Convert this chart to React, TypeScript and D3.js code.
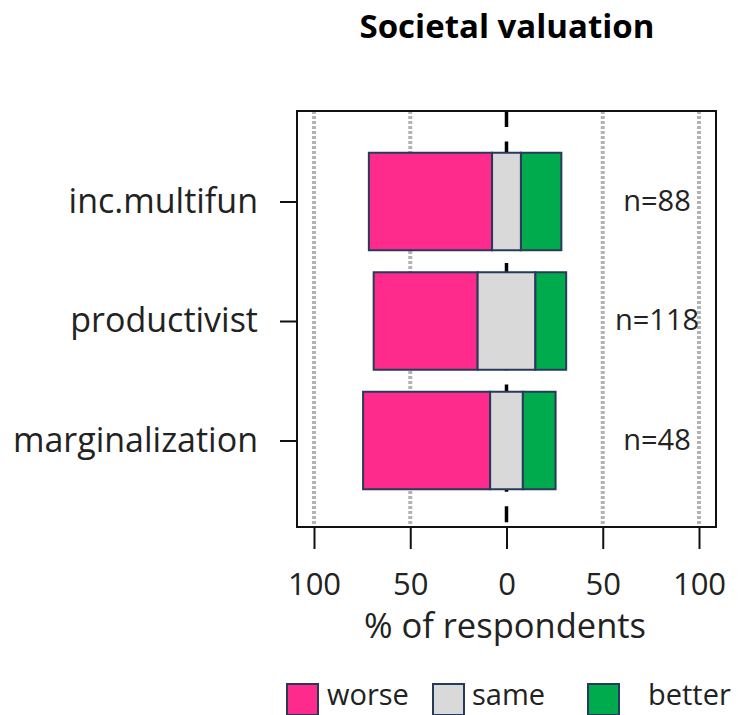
import React, { useEffect, useRef } from 'react'
import * as d3 from 'd3'

// data (% of respondents)
const categories = ['inc.multifun', 'productivist', 'marginalization']
const worse = [64, 54, 66]
const same = [15, 30, 17]
const better = [21, 16, 17]
const nLabels = ['n=88', 'n=118', 'n=48']
const xTicks = [-100, -50, 0, 50, 100]
const legendLabels = ['worse', 'same', 'better']
const colors = ['#fe2b8c', '#d9d9d9', '#00ab4e']

const FONT = '"Open Sans", sans-serif'

export default function App () {
  const ref = useRef<SVGSVGElement>(null)

  useEffect(() => {
    const svg = d3.select(ref.current)
    svg.selectAll('*').remove()

    const box = { left: 297, right: 716, top: 111, bottom: 527 }

    const x = d3.scaleLinear().domain([-100, 100]).range([314, 699])
    const y = d3.scalePoint<string>().domain(categories).range([201.5, 440.5])
    const barH = 97.5

    // title
    svg.append('text')
      .attr('x', 507).attr('y', 38)
      .attr('text-anchor', 'middle')
      .attr('font-family', FONT).attr('font-weight', 'bold').attr('font-size', 33)
      .text('Societal valuation')

    // grid
    svg.append('g')
      .selectAll('line')
      .data(xTicks.filter(d => d !== 0))
      .enter().append('line')
        .attr('x1', d => x(d)).attr('x2', d => x(d))
        .attr('y1', box.top).attr('y2', box.bottom)
        .attr('stroke', '#b3b3b3')
        .attr('stroke-width', 4)
        .attr('stroke-dasharray', '3,2')

    svg.append('line')
      .attr('x1', x(0)).attr('x2', x(0))
      .attr('y1', box.top).attr('y2', box.bottom)
      .attr('stroke', '#000')
      .attr('stroke-width', 3.5)
      .attr('stroke-dasharray', '16,14.4')

    // bars
    const rows = categories.map((c, i) => {
      const start = -(same[i] / 2) - worse[i]
      return [
        { cat: c, x0: start, x1: start + worse[i], k: 0 },
        { cat: c, x0: -same[i] / 2, x1: same[i] / 2, k: 1 },
        { cat: c, x0: same[i] / 2, x1: same[i] / 2 + better[i], k: 2 }
      ]
    }).flat()

    svg.append('g')
      .selectAll('rect')
      .data(rows)
      .enter().append('rect')
        .attr('x', d => x(d.x0))
        .attr('width', d => x(d.x1) - x(d.x0))
        .attr('y', d => (y(d.cat) as number) - barH / 2)
        .attr('height', barH)
        .attr('fill', d => colors[d.k])
        .attr('stroke', '#283a5c')
        .attr('stroke-width', 2)

    // n labels
    svg.append('g')
      .selectAll('text')
      .data(categories)
      .enter().append('text')
        .attr('x', 657)
        .attr('y', d => y(d) as number)
        .attr('dy', '0.32em')
        .attr('text-anchor', 'middle')
        .attr('font-family', FONT).attr('font-size', 29)
        .attr('fill', '#222')
        .text((d, i) => nLabels[i])

    // box
    svg.append('rect')
      .attr('x', box.left).attr('y', box.top)
      .attr('width', box.right - box.left).attr('height', box.bottom - box.top)
      .attr('fill', 'none').attr('stroke', '#111').attr('stroke-width', 2)

    // axes
    const xAxis = svg.append('g')
      .attr('transform', `translate(0, ${box.bottom})`)
      .call(d3.axisBottom(x).tickValues(xTicks).tickSize(22).tickPadding(24)
        .tickFormat(d => String(Math.abs(d as number))))
    xAxis.select('.domain').remove()
    xAxis.selectAll('line').attr('stroke', '#111').attr('stroke-width', 2)
    xAxis.selectAll('text')
      .attr('font-family', FONT).attr('font-size', 31).attr('fill', '#222')

    const yAxis = svg.append('g')
      .attr('transform', `translate(${box.left}, 0)`)
      .call(d3.axisLeft(y).tickSize(17).tickPadding(22))
    yAxis.select('.domain').remove()
    yAxis.selectAll('line').attr('stroke', '#111').attr('stroke-width', 2)
    yAxis.selectAll('text')
      .attr('font-family', FONT).attr('font-size', 34).attr('fill', '#222')

    svg.append('text')
      .attr('x', 505).attr('y', 638)
      .attr('text-anchor', 'middle')
      .attr('font-family', FONT).attr('font-size', 34.5).attr('fill', '#222')
      .text('% of respondents')

    // legend
    const legX = [287, 433, 588]
    const legTextX = [327, 472, 648]
    const lg = svg.append('g')
    lg.selectAll('rect')
      .data(legendLabels)
      .enter().append('rect')
        .attr('x', (d, i) => legX[i])
        .attr('y', 684)
        .attr('width', 31).attr('height', 31)
        .attr('fill', (d, i) => colors[i])
        .attr('stroke', '#283a5c').attr('stroke-width', 2)
    lg.selectAll('text')
      .data(legendLabels)
      .enter().append('text')
        .attr('x', (d, i) => legTextX[i])
        .attr('y', 705)
        .attr('font-family', FONT).attr('font-size', 29).attr('fill', '#222')
        .text(d => d)
  }, [])

  return (
    <svg ref={ref} width={738} height={715}
      style={{ position: 'absolute', left: 0, top: 0, background: '#fff' }} />
  )
}
